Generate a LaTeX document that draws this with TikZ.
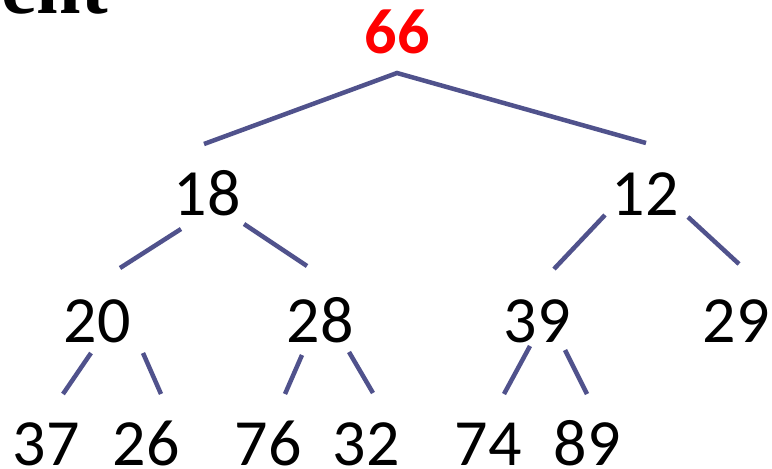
\documentclass[tikz,border=0pt]{standalone}
\usepackage{fontspec}
\setmainfont{Carlito}
\newfontfamily\headfont{Liberation Serif}
\definecolor{edgeblue}{RGB}{80,82,140}
\begin{document}
\begin{tikzpicture}[x=1pt,y=-1pt,
  num/.style={inner sep=0pt,anchor=base,font=\fontsize{66}{70}\selectfont},
  rootnum/.style={num,text=red,font=\fontsize{64}{70}\selectfont\bfseries},
  edge/.style={draw=edgeblue,line width=4.5pt}]
\useasboundingbox (0,0) rectangle (772,469);
\node[inner sep=0pt,anchor=base east,font=\fontsize{80}{90}\selectfont\headfont\bfseries] (head) at (108,13) {ent};
\node[rootnum] (r) at (397,53) {66};
\node[num] (a) at (207,215) {18};
\node[num] (b) at (645,215) {12};
\node[num] (c) at (97,342) {20};
\node[num] (d) at (320,342) {28};
\node[num] (e) at (537,342) {39};
\node[num] (f) at (736,342) {29};
\node[num] (g) at (46,465) {37};
\node[num] (h) at (146,465) {26};
\node[num] (i) at (268,465) {76};
\node[num] (j) at (366,465) {32};
\node[num] (k) at (488,465) {74};
\node[num] (l) at (587,465) {89};
% edge end points
\coordinate (r0) at (397,73);
\coordinate (a0) at (204,144);
\coordinate (b0) at (646,143);
\coordinate (a1) at (181,229); \coordinate (c0) at (120,268);
\coordinate (a2) at (244,224); \coordinate (d0) at (307,266);
\coordinate (b1) at (605,215); \coordinate (e0) at (554,269);
\coordinate (b2) at (688,217); \coordinate (f0) at (739,264);
\coordinate (c1) at (91,353); \coordinate (g0) at (63,394);
\coordinate (c2) at (143,353); \coordinate (h0) at (161,394);
\coordinate (d1) at (302,355); \coordinate (i0) at (285,394);
\coordinate (d2) at (349,352); \coordinate (j0) at (373,393);
\coordinate (e1) at (530,346); \coordinate (k0) at (504,394);
\coordinate (e2) at (565,350); \coordinate (l0) at (587,394);
\draw[edge] (a0) -- (r0) -- (b0);
\draw[edge] (a1) -- (c0);
\draw[edge] (a2) -- (d0);
\draw[edge] (b1) -- (e0);
\draw[edge] (b2) -- (f0);
\draw[edge] (c1) -- (g0);
\draw[edge] (c2) -- (h0);
\draw[edge] (d1) -- (i0);
\draw[edge] (d2) -- (j0);
\draw[edge] (e1) -- (k0);
\draw[edge] (e2) -- (l0);
\end{tikzpicture}
\end{document}
